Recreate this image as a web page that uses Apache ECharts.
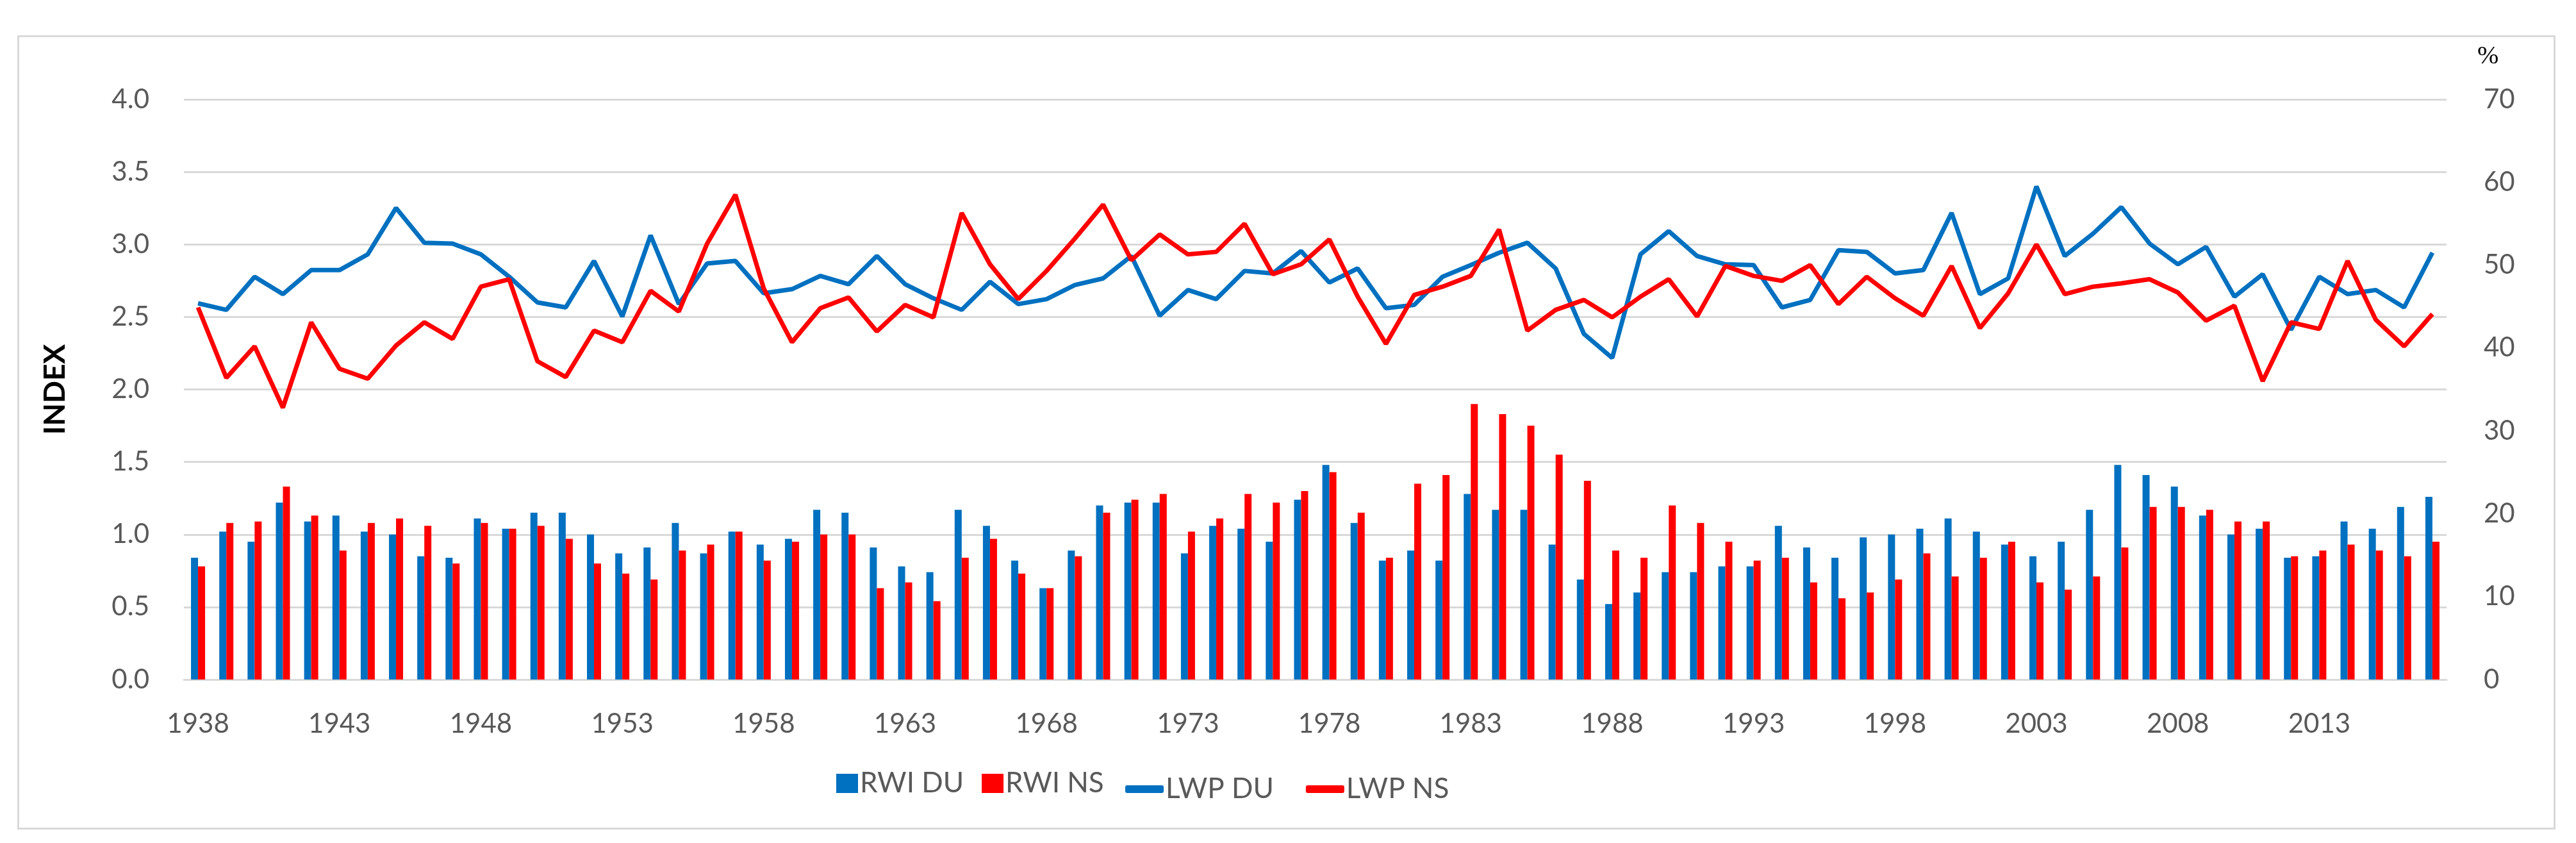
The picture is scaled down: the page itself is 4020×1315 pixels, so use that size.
<!DOCTYPE html>
<html>
<head>
<meta charset="utf-8">
<script src="https://cdn.jsdelivr.net/npm/echarts@6/dist/echarts.min.js"></script>
<style>
  html, body { margin: 0; padding: 0; background: #ffffff; }
  #chart { width: 4020px; height: 1315px; }
</style>
</head>
<body>
<div id="chart"></div>
<script>
const years = [];
for (let y = 1938; y <= 2017; y++) years.push(String(y));

const rwiDU = [0.84,1.02,0.95,1.22,1.09,1.13,1.02,1.00,0.85,0.84,
  1.11,1.04,1.15,1.15,1.00,0.87,0.91,1.08,0.87,1.02,
  0.93,0.97,1.17,1.15,0.91,0.78,0.74,1.17,1.06,0.82,
  0.63,0.89,1.20,1.22,1.22,0.87,1.06,1.04,0.95,1.24,
  1.48,1.08,0.82,0.89,0.82,1.28,1.17,1.17,0.93,0.69,
  0.52,0.60,0.74,0.74,0.78,0.78,1.06,0.91,0.84,0.98,
  1.00,1.04,1.11,1.02,0.93,0.85,0.95,1.17,1.48,1.41,
  1.33,1.13,1.00,1.04,0.84,0.85,1.09,1.04,1.19,1.26];

const rwiNS = [0.78,1.08,1.09,1.33,1.13,0.89,1.08,1.11,1.06,0.80,
  1.08,1.04,1.06,0.97,0.80,0.73,0.69,0.89,0.93,1.02,
  0.82,0.95,1.00,1.00,0.63,0.67,0.54,0.84,0.97,0.73,
  0.63,0.85,1.15,1.24,1.28,1.02,1.11,1.28,1.22,1.30,
  1.43,1.15,0.84,1.35,1.41,1.90,1.83,1.75,1.55,1.37,
  0.89,0.84,1.20,1.08,0.95,0.82,0.84,0.67,0.56,0.60,
  0.69,0.87,0.71,0.84,0.95,0.67,0.62,0.71,0.91,1.19,
  1.19,1.17,1.09,1.09,0.85,0.89,0.93,0.89,0.85,0.95];

const lwpDU = [45.4,44.6,48.6,46.5,49.4,49.4,51.3,56.9,52.7,52.6,
  51.3,48.6,45.5,44.9,50.5,43.8,53.6,45.3,50.2,50.5,
  46.6,47.1,48.7,47.7,51.1,47.7,46.0,44.6,48.0,45.3,
  45.9,47.6,48.4,51.1,43.9,47.0,45.9,49.3,49.0,51.7,
  47.9,49.6,44.8,45.2,48.6,50.0,51.5,52.7,49.6,41.7,
  38.8,51.3,54.1,51.1,50.1,50.0,44.9,45.8,51.8,51.6,
  49.0,49.4,56.3,46.5,48.4,59.5,51.1,53.8,57.0,52.6,
  50.1,52.2,46.2,48.9,42.2,48.6,46.5,47.0,44.9,51.5];

const lwpNS = [44.9,36.4,40.2,32.8,43.1,37.5,36.3,40.3,43.1,41.1,
  47.4,48.3,38.4,36.5,42.1,40.7,46.9,44.4,52.6,58.5,
  47.2,40.7,44.8,46.1,42.0,45.2,43.7,56.3,50.1,45.9,
  49.3,53.2,57.3,50.6,53.7,51.3,51.6,55.0,48.9,50.1,
  53.1,46.2,40.5,46.4,47.4,48.7,54.3,42.1,44.6,45.8,
  43.7,46.2,48.3,43.8,49.9,48.7,48.1,50.0,45.3,48.6,
  46.0,43.9,49.9,42.4,46.6,52.5,46.5,47.4,47.8,48.3,
  46.7,43.3,45.1,36.0,43.1,42.3,50.5,43.4,40.2,44.1];

const seriesNames = ['RWI DU', 'RWI NS', 'LWP DU', 'LWP NS'];
const BLUE = '#0070C0';
const RED = '#FF0000';
const GREY = '#595959';
const GRID = '#d9d9d9';
const FONT = 'Lato';

const chart = echarts.init(document.getElementById('chart'), null, { renderer: 'canvas', devicePixelRatio: 1 });

chart.setOption({
  animation: false,
  backgroundColor: '#ffffff',
  textStyle: { fontFamily: FONT },
  graphic: [
    { type: 'rect', left: 26, top: 54, shape: { width: 3958, height: 1236 },
      style: { fill: 'none', stroke: GRID, lineWidth: 3 }, silent: true },
    { type: 'text', left: 3866, top: 68,
      style: { text: '%', fill: '#000000', font: '40px "Liberation Serif"' } }
  ],
  grid: { left: 287, right: 202, top: 155, bottom: 255, containLabel: false },
  legend: [
    {
      data: [
        { name: seriesNames[0], icon: 'rect' },
        { name: seriesNames[1], icon: 'rect' }
      ],
      left: 1300, top: 1195,
      itemWidth: 34, itemHeight: 30, itemGap: 28,
      textStyle: { color: GREY, fontSize: 44, fontFamily: FONT, padding: [0, 0, 0, -2] }
    },
    {
      data: [
        { name: seriesNames[2], icon: 'roundRect' },
        { name: seriesNames[3], icon: 'roundRect' }
      ],
      left: 1751, top: 1204,
      itemWidth: 60, itemHeight: 12, itemGap: 50,
      textStyle: { color: GREY, fontSize: 44, fontFamily: FONT, padding: [0, 0, 0, -2] }
    }
  ],
  xAxis: {
    type: 'category',
    data: years,
    boundaryGap: true,
    axisLine: { lineStyle: { color: GRID, width: 3 } },
    axisTick: { show: false },
    axisLabel: { interval: 4, color: GREY, fontSize: 42, fontFamily: FONT, margin: 48 }
  },
  yAxis: [
    {
      type: 'value', min: 0, max: 4, interval: 0.5,
      name: 'INDEX', nameLocation: 'middle', nameGap: 178,
      nameTextStyle: { color: '#000000', fontSize: 46, fontWeight: 'bold', fontFamily: FONT },
      axisLine: { show: false }, axisTick: { show: false },
      axisLabel: { color: GREY, fontSize: 42, fontFamily: FONT, margin: 54,
        formatter: v => v.toFixed(1) },
      splitLine: { lineStyle: { color: GRID, width: 3 } }
    },
    {
      type: 'value', min: 0, max: 70, interval: 10,
      axisLine: { show: false }, axisTick: { show: false },
      axisLabel: { color: GREY, fontSize: 42, fontFamily: FONT, margin: 58 },
      splitLine: { show: false }
    }
  ],
  series: [
    { name: seriesNames[0], type: 'bar', data: rwiDU, yAxisIndex: 0,
      barWidth: 11, barGap: '0%', itemStyle: { color: BLUE } },
    { name: seriesNames[1], type: 'bar', data: rwiNS, yAxisIndex: 0,
      barWidth: 11, barGap: '0%', itemStyle: { color: RED } },
    { name: seriesNames[2], type: 'line', data: lwpDU, yAxisIndex: 1,
      showSymbol: false, symbol: 'none', lineStyle: { color: BLUE, width: 7 },
      itemStyle: { color: BLUE }, z: 3 },
    { name: seriesNames[3], type: 'line', data: lwpNS, yAxisIndex: 1,
      showSymbol: false, symbol: 'none', lineStyle: { color: RED, width: 7 },
      itemStyle: { color: RED }, z: 4 }
  ]
});
</script>
</body>
</html>
